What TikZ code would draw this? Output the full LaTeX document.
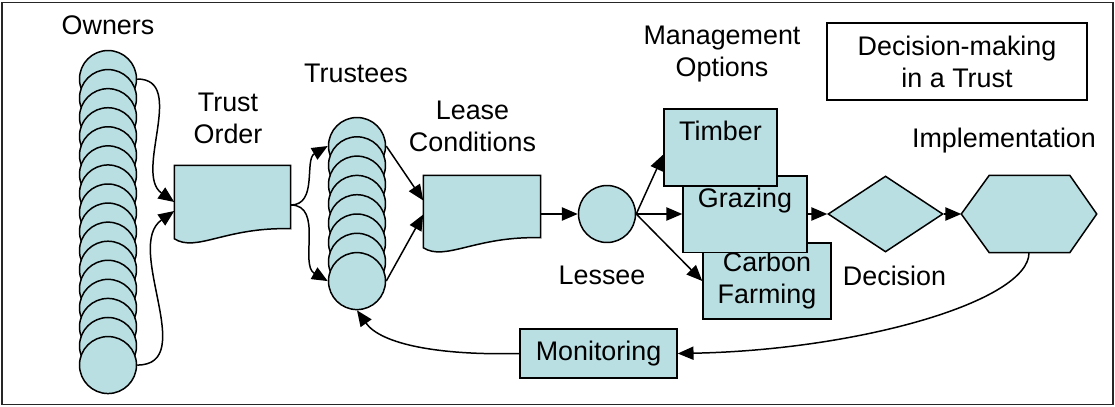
\documentclass[tikz,border=0pt]{standalone}
\usepackage{fontspec}
\setmainfont{Liberation Sans}
\usetikzlibrary{arrows.meta, calc, shapes.geometric}
\definecolor{discFill}{RGB}{185, 223, 227}

\begin{document}
\begin{tikzpicture}[x=0.02cm, y=-0.02cm, line width=0.85pt,
    every node/.style={font=\fontsize{15.3}{18.2}\selectfont},
    >={Triangle[length=9pt, width=7.5pt]},
    disc/.style={circle, draw, fill=discFill, minimum size=1.14cm, inner sep=0pt},
    optbox/.style={draw, fill=discFill, inner sep=0pt},
    toptext/.style={text height=0.63cm, text depth=0.9cm},
    blank/.style={inner sep=0pt},
    caption/.style={align=center}]
    \useasboundingbox (0,0) rectangle (1115,406);
    \draw[line width=1pt, black!85] (2,2.5) rectangle (1113,404.5);

    % owners and trustees as stacked discs
    \foreach \i in {1,...,16}
      \node[disc] (own\i) at (108, {79+19.07*(\i-1)}) {};
    \node (owners) at (108,25) {Owners};
    \foreach \i in {1,...,8}
      \node[disc] (tee\i) at (357, {146+19.3*(\i-1)}) {};
    \node (trustees) at (356,73.5) {Trustees};

    % document shapes
    \node[blank, minimum width=2.3cm, minimum height=1.24cm] (trust) at (232.5,197) {};
    \filldraw[fill=discFill] (trust.north west) -- (trust.north east) -- (trust.south east)
      .. controls +(-65,-2) and +(22,14) .. ($(trust.south west)+(0,10)$) -- cycle;
    \node[caption] (trustlbl) at (228,118) {Trust\\Order};
    \node[blank, minimum width=2.32cm, minimum height=1.22cm] (lease) at (482,206.5) {};
    \filldraw[fill=discFill] (lease.north west) -- (lease.north east) -- (lease.south east)
      .. controls +(-65,-2) and +(22,14) .. ($(lease.south west)+(0,10)$) -- cycle;
    \node[caption] (leaselbl) at (472.5,126.5) {Lease\\Conditions};

    \node[disc] (lessee) at (607,214) {};
    \node (lesseelbl) at (602,275.5) {Lessee};

    % management options
    \node[caption] (optlbl) at (722,54) {Management\\Options};
    \node[optbox, align=center, minimum width=2.56cm, minimum height=1.52cm] (carbon) at (767,281) {Carbon\\Farming};
    \node[optbox, toptext, minimum width=2.48cm, minimum height=1.52cm] (grazing) at (745,214) {Grazing};
    \node[optbox, toptext, minimum width=2.26cm, minimum height=1.54cm] (timber) at (720.5,147.5) {Timber};

    \node[diamond, draw, fill=discFill, inner sep=0pt, aspect=1.5,
      minimum width=2.3cm, minimum height=1.52cm] (decision) at (885.5,214) {};
    \node (decisionlbl) at (894.5,275.5) {Decision};

    \node[blank, minimum width=2.68cm, minimum height=1.52cm] (impl) at (1029,214) {};
    \filldraw[fill=discFill] (impl.west) -- ($(impl.north west)+(28,0)$) -- ($(impl.north east)+(-27,0)$)
      -- (impl.east) -- ($(impl.south east)+(-27,0)$) -- ($(impl.south west)+(28,0)$) -- cycle;
    \node (impllbl) at (1004,141) {Implementation};

    \node[draw, minimum width=5.2cm, minimum height=1.54cm, align=center] (title) at (957,61.5) {Decision-making\\in a Trust};
    \node[optbox, minimum width=3.14cm, minimum height=0.98cm] (monitor) at (598.5,353.5) {Monitoring};

    % flow
    \draw[->] (own1.east) to[out=0, in=145] ($(trust.west)+(0,5)$);
    \draw[->] (own16.east) to[out=0, in=-145] ($(trust.west)+(0,14)$);
    \draw[->] ($(trust.east)+(0,8)$) to[out=0, in=-150] (tee1.west);
    \draw[->] ($(trust.east)+(0,8)$) to[out=0, in=150] (tee8.west);
    \draw[->] (tee1.east) -- ($(lease.west)+(0,-6)$);
    \draw[->] (tee8.east) -- ($(lease.west)+(0,8)$);
    \draw[->] (lease.east |- lessee) -- (lessee);
    \draw[->] (lessee.east) -- ($(timber.west)+(0,7)$);
    \draw[->] (lessee.east) -- (grazing.west);
    \draw[->] (lessee.east) -- (carbon.west);
    \draw[->] (grazing) -- (decision);
    \draw[->] (decision) -- (impl.west);
    \draw[->] (impl.south) .. controls +(0,48) and +(183,-3.5) .. (monitor.east);
    \draw[->] (monitor.west) .. controls +(-80,2) and +(24,34) .. (tee8.south);
\end{tikzpicture}
\end{document}
